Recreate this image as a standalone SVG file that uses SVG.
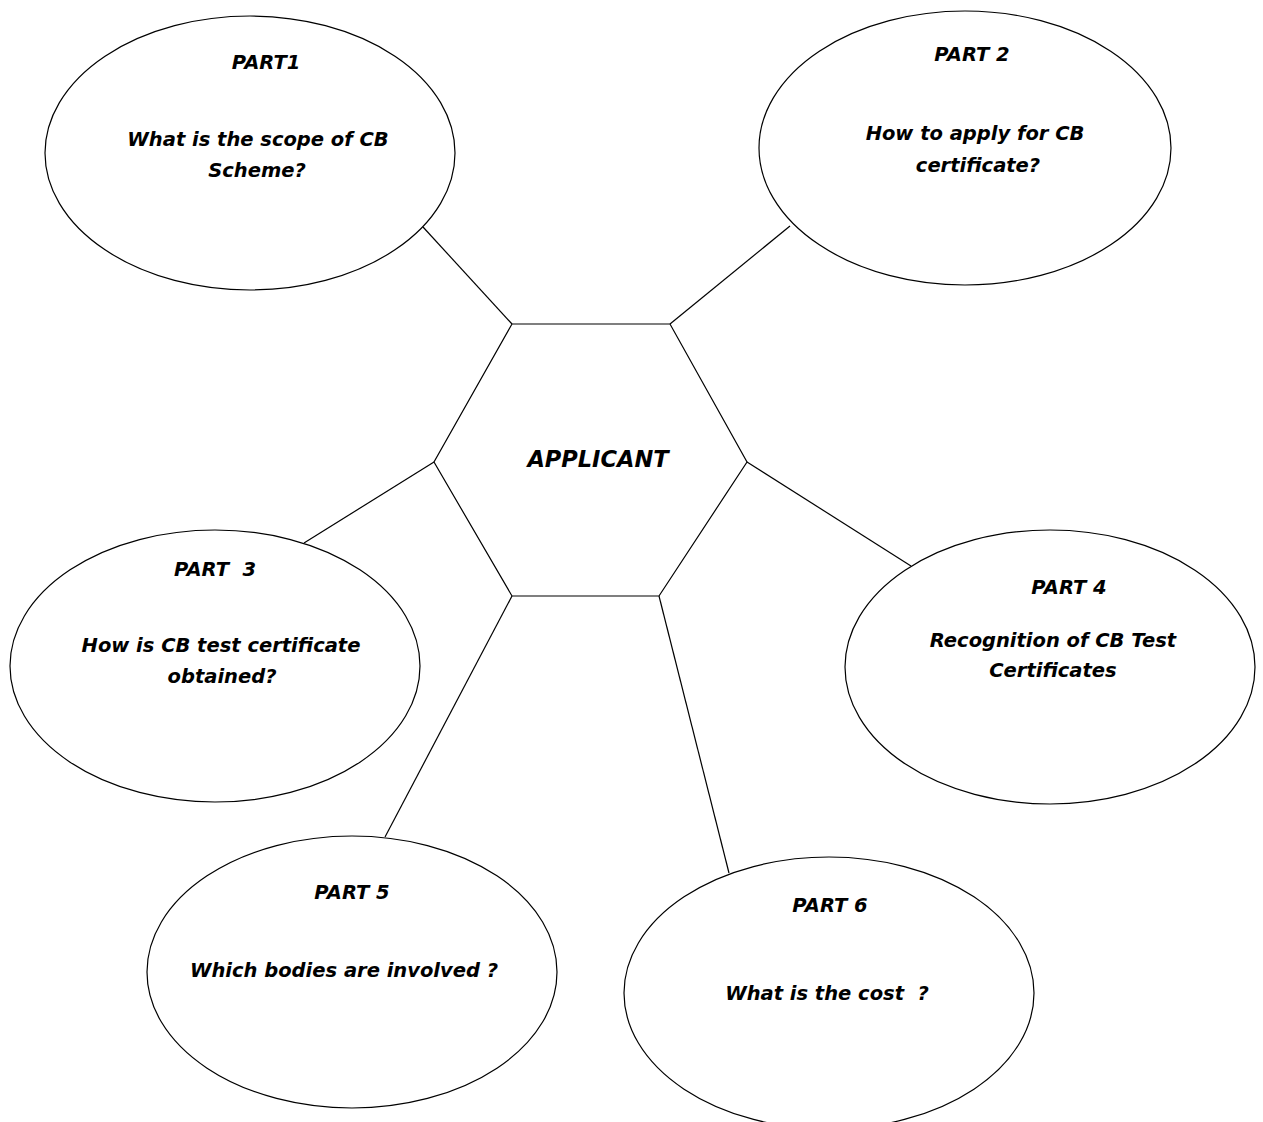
<svg xmlns="http://www.w3.org/2000/svg" width="1263" height="1122" viewBox="0 0 1263 1122">
<style>
.shape{fill:#fff;stroke:#000;stroke-width:1.2}
.conn line{stroke:#000;stroke-width:1.2}
text{font-family:"DejaVu Sans","Liberation Sans",sans-serif;font-weight:bold;font-style:oblique;font-size:19.5px;fill:#000;text-anchor:middle}
.big{font-size:22.5px}
</style>
<rect width="1263" height="1122" fill="#fff"/>
<g id="connectors" class="conn">
<line x1="512" y1="324" x2="423" y2="227"/>
<line x1="670" y1="324" x2="790" y2="226"/>
<line x1="434" y1="462" x2="304" y2="543"/>
<line x1="747" y1="462" x2="911" y2="566"/>
<line x1="512" y1="596" x2="385" y2="837"/>
<line x1="659" y1="596" x2="729" y2="873"/>
</g>
<g id="applicant">
<polygon class="shape" points="512,324 670,324 747,462 659,596 512,596 434,462"/>
<text class="big" x="598" y="467">APPLICANT</text>
</g>
<g id="part1">
<ellipse class="shape" cx="250" cy="153" rx="205" ry="137"/>
<text x="266" y="69">PART1</text>
<text x="258" y="146">What is the scope of CB</text>
<text x="257" y="177">Scheme?</text>
</g>
<g id="part2">
<ellipse class="shape" cx="965" cy="148" rx="206" ry="137"/>
<text x="972" y="61">PART 2</text>
<text x="975" y="140">How to apply for CB</text>
<text x="978" y="172">certificate?</text>
</g>
<g id="part3">
<ellipse class="shape" cx="215" cy="666" rx="205" ry="136"/>
<text x="215" y="576" xml:space="preserve">PART  3</text>
<text x="221" y="652">How is CB test certificate</text>
<text x="222" y="683">obtained?</text>
</g>
<g id="part4">
<ellipse class="shape" cx="1050" cy="667" rx="205" ry="137"/>
<text x="1069" y="594">PART 4</text>
<text x="1053" y="647">Recognition of CB Test</text>
<text x="1053" y="677">Certificates</text>
</g>
<g id="part5">
<ellipse class="shape" cx="352" cy="972" rx="205" ry="136"/>
<text x="352" y="899">PART 5</text>
<text x="344" y="977" xml:space="preserve">Which bodies are involved ?</text>
</g>
<g id="part6">
<ellipse class="shape" cx="829" cy="993" rx="205" ry="136"/>
<text x="830" y="912">PART 6</text>
<text x="827" y="1000" xml:space="preserve">What is the cost  ?</text>
</g>
</svg>
